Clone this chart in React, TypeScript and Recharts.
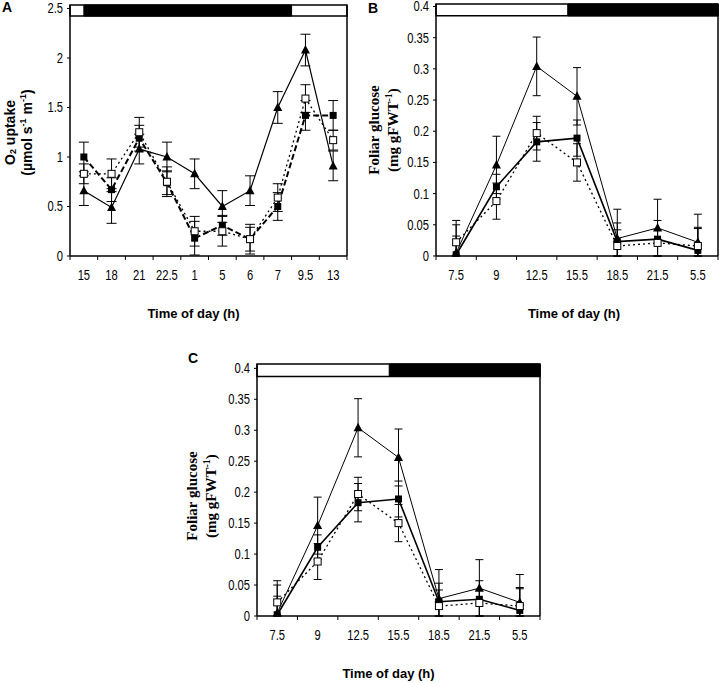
import React from 'react';
import { LineChart, Line, XAxis, YAxis, ErrorBar, ReferenceArea, ReferenceLine } from 'recharts';

// ---- Panel A: O2 uptake over the day ----
const timesA = ['15', '18', '21', '22.5', '1', '5', '6', '7', '9.5', '13'];
const triA = [0.66, 0.49, 1.08, 1.0, 0.83, 0.5, 0.66, 1.5, 2.08, 0.91];
const triErrA = [0.15, 0.16, 0.15, 0.15, 0.15, 0.16, 0.15, 0.16, 0.16, 0.15];
const fillA = [1.0, 0.67, 1.19, 0.74, 0.18, 0.31, 0.17, 0.5, 1.42, 1.42];
const fillErrA = [0.15, 0.12, 0.13, 0.12, 0.17, 0.1, 0.12, 0.14, 0.15, 0.15];
const openA = [0.83, 0.83, 1.25, 0.75, 0.25, 0.25, 0.17, 0.59, 1.59, 1.17];
const openErrA = [0.1, 0.15, 0.15, 0.15, 0.15, 0.15, 0.15, 0.14, 0.14, 0.1];
const yTicksA = [0, 0.5, 1, 1.5, 2, 2.5];
const nightA = [0.5, 8];

// ---- Panels B and C: foliar glucose (same data) ----
const timesB = ['7.5', '9', '12.5', '15.5', '18.5', '21.5', '5.5'];
const triB = [0.005, 0.146, 0.304, 0.256, 0.028, 0.045, 0.022];
const triErrB = [0.052, 0.046, 0.047, 0.046, 0.047, 0.046, 0.045];
const fillB = [0.002, 0.111, 0.183, 0.189, 0.023, 0.027, 0.009];
const fillErrB = [0.03, 0.02, 0.031, 0.029, 0.03, 0.03, 0.035];
const openB = [0.022, 0.088, 0.197, 0.15, 0.016, 0.021, 0.016];
const openErrB = [0.028, 0.029, 0.027, 0.03, 0.026, 0.021, 0.03];
const yTicksB = [0, 0.05, 0.1, 0.15, 0.2, 0.25, 0.3, 0.35, 0.4];
const nightB = [3.27, 7];

const ARIAL = '"Liberation Sans", Arial, sans-serif';
const TIMES = '"Liberation Serif", "Times New Roman", serif';
const SQUEEZE = 0.8; // tick labels in the figure use a condensed face

const buildRows = (tri: number[], triErr: number[], fill: number[], fillErr: number[], open: number[], openErr: number[]) =>
  tri.map((v, i) => ({
    x: i + 0.5,
    tri: v,
    triE: [Math.min(triErr[i], v), triErr[i]],
    fill: fill[i],
    fillE: [Math.min(fillErr[i], fill[i]), fillErr[i]],
    open: open[i],
    openE: [Math.min(openErr[i], open[i]), openErr[i]],
  }));

const TriDot = (props: any) => {
  const { cx, cy } = props;
  if (cx == null || cy == null) return null;
  return <polygon points={`${cx},${cy - 5} ${cx - 4.5},${cy + 3.5} ${cx + 4.5},${cy + 3.5}`} fill="#000" />;
};

const FillDot = (props: any) => {
  const { cx, cy } = props;
  if (cx == null || cy == null) return null;
  return <rect x={cx - 3.5} y={cy - 3.5} width={7} height={7} fill="#000" />;
};

const OpenDot = (props: any) => {
  const { cx, cy } = props;
  if (cx == null || cy == null) return null;
  return <rect x={cx - 3.5} y={cy - 3.5} width={7} height={7} fill="#fff" stroke="#000" strokeWidth={1} />;
};

const XTick = (props: any) => {
  const { x, y, payload, labels } = props;
  const v = payload.value;
  if (Number.isInteger(v)) {
    return <line x1={x} x2={x} y1={y} y2={y + 4} stroke="#000" strokeWidth={1} />;
  }
  return (
    <text
      transform={`translate(${x},${y + 24}) scale(${SQUEEZE},1)`}
      textAnchor="middle"
      fontSize={14}
      fontFamily={ARIAL}
      fill="#000"
    >
      {labels[Math.floor(v)]}
    </text>
  );
};

const YTick = (props: any) => {
  const { x, y, payload } = props;
  return (
    <text
      transform={`translate(${x},${y + 5}) scale(${SQUEEZE},1)`}
      textAnchor="end"
      fontSize={14}
      fontFamily={ARIAL}
      fill="#000"
    >
      {String(payload.value)}
    </text>
  );
};

type PanelProps = {
  left: number;
  top: number;
  width: number;
  height: number;
  margin: { top: number; right: number; bottom: number; left: number };
  yWidth: number;
  times: string[];
  rows: any[];
  yTicks: number[];
  yMax: number;
  barLow: number;
  night: number[];
  letter: string;
  letterX: number;
  letterY: number;
  yLabel: React.ReactNode[];
  yLabelFont: string;
  yLabelSize: number;
  yLabelX: number[];
  yLabelDy: number;
  titleDx: number;
  fillDash?: string;
  fillWidth: number;
  openDash: string;
  triWidth: number;
  capWidth: number;
};

const X_HEIGHT = 30;

const Panel = (p: PanelProps) => {
  const n = p.times.length;
  const halfTicks = Array.from({ length: 2 * n + 1 }, (_, k) => k / 2);
  const plotLeft = p.margin.left + p.yWidth;
  const plotRight = p.width - p.margin.right;
  const plotTop = p.margin.top;
  const plotBottom = p.height - p.margin.bottom - X_HEIGHT;
  const midY = (plotTop + plotBottom) / 2 + p.yLabelDy;
  return (
    <div style={{ position: 'absolute', left: p.left, top: p.top, width: p.width, height: p.height }}>
      <LineChart width={p.width} height={p.height} data={p.rows} margin={p.margin}>
        <XAxis
          type="number"
          dataKey="x"
          domain={[0, n]}
          ticks={halfTicks}
          interval={0}
          tickSize={0}
          tickMargin={0}
          tickLine={false}
          allowDataOverflow
          height={X_HEIGHT}
          axisLine={{ stroke: '#000', strokeWidth: 1.5 }}
          tick={<XTick labels={p.times} />}
        />
        <YAxis
          type="number"
          domain={[0, p.yMax]}
          ticks={p.yTicks}
          interval={0}
          allowDataOverflow
          width={p.yWidth}
          tickSize={3}
          tickMargin={4}
          axisLine={{ stroke: '#000', strokeWidth: 1.5 }}
          tickLine={{ stroke: '#000' }}
          tick={<YTick />}
        />
        <ReferenceArea x1={0} x2={n} y1={p.barLow} y2={p.yMax} fill="#fff" fillOpacity={1} stroke="#000" strokeWidth={1.5} />
        <ReferenceArea x1={p.night[0]} x2={p.night[1]} y1={p.barLow} y2={p.yMax} fill="#000" fillOpacity={1} stroke="#000" />
        <ReferenceLine x={n} stroke="#000" strokeWidth={1.5} />
        <Line
          dataKey="tri"
          type="linear"
          stroke="#000"
          strokeWidth={p.triWidth}
          dot={<TriDot />}
          activeDot={false}
          isAnimationActive={false}
        >
          <ErrorBar dataKey="triE" width={p.capWidth} stroke="#000" strokeWidth={1} direction="y" />
        </Line>
        <Line
          dataKey="fill"
          type="linear"
          stroke="#000"
          strokeWidth={p.fillWidth}
          strokeDasharray={p.fillDash}
          dot={<FillDot />}
          activeDot={false}
          isAnimationActive={false}
        >
          <ErrorBar dataKey="fillE" width={p.capWidth} stroke="#000" strokeWidth={1} direction="y" />
        </Line>
        <Line
          dataKey="open"
          type="linear"
          stroke="#000"
          strokeWidth={1.3}
          strokeDasharray={p.openDash}
          dot={<OpenDot />}
          activeDot={false}
          isAnimationActive={false}
        >
          <ErrorBar dataKey="openE" width={p.capWidth} stroke="#000" strokeWidth={1} direction="y" />
        </Line>
      </LineChart>
      <svg
        width={p.width}
        height={p.height}
        style={{ position: 'absolute', left: 0, top: 0, pointerEvents: 'none' }}
      >
        <text x={p.letterX} y={p.letterY} fontSize={14} fontWeight="bold" fontFamily={ARIAL} fill="#000">
          {p.letter}
        </text>
        {p.yLabel.map((line, i) => (
          <text
            key={i}
            x={plotLeft + p.yLabelX[i]}
            y={midY}
            transform={`rotate(-90, ${plotLeft + p.yLabelX[i]}, ${midY})`}
            textAnchor="middle"
            dominantBaseline="central"
            fontSize={p.yLabelSize}
            fontWeight="bold"
            fontFamily={p.yLabelFont}
            fill="#000"
          >
            {line}
          </text>
        ))}
        <text
          x={(plotLeft + plotRight) / 2 + p.titleDx}
          y={plotBottom + 57}
          textAnchor="middle"
          dominantBaseline="central"
          fontSize={13}
          fontWeight="bold"
          fontFamily={ARIAL}
          fill="#000"
        >
          Time of day (h)
        </text>
      </svg>
    </div>
  );
};

const rowsA = buildRows(triA, triErrA, fillA, fillErrA, openA, openErrA);
const rowsB = buildRows(triB, triErrB, fillB, fillErrB, openB, openErrB);

const labelA = [
  <>
    <tspan>O</tspan>
    <tspan fontSize={9} dy={3}>2</tspan>
    <tspan dy={-3}> uptake</tspan>
  </>,
  <>
    <tspan>(µmol s</tspan>
    <tspan fontSize={9} dy={-4}>-1</tspan>
    <tspan dy={4}> m</tspan>
    <tspan fontSize={9} dy={-4}>-1</tspan>
    <tspan dy={4}>)</tspan>
  </>,
];

const labelGlucose = [
  <>
    <tspan>Foliar glucose</tspan>
  </>,
  <>
    <tspan>(mg gFWT</tspan>
    <tspan fontSize={10} dy={-5}>-1</tspan>
    <tspan dy={5}>)</tspan>
  </>,
];

export default function App() {
  return (
    <div style={{ position: 'absolute', left: 0, top: 0, width: 720, height: 683, background: '#fff' }}>
      <Panel
        left={0}
        top={0}
        width={360}
        height={330}
        margin={{ top: 5, right: 13, bottom: 44, left: 0 }}
        yWidth={70}
        times={timesA}
        rows={rowsA}
        yTicks={yTicksA}
        yMax={2.535}
        barLow={2.424}
        night={nightA}
        letter="A"
        letterX={2}
        letterY={12}
        yLabel={labelA}
        yLabelFont={ARIAL}
        yLabelSize={14}
        yLabelX={[-60, -43]}
        yLabelDy={2}
        titleDx={-15}
        fillDash="6 3"
        fillWidth={2}
        openDash="2 3"
        triWidth={1.2}
        capWidth={5}
      />
      <Panel
        left={360}
        top={0}
        width={360}
        height={330}
        margin={{ top: 4, right: 2, bottom: 44, left: 0 }}
        yWidth={76}
        times={timesB}
        rows={rowsB}
        yTicks={yTicksB}
        yMax={0.404}
        barLow={0.385}
        night={nightB}
        letter="B"
        letterX={8}
        letterY={13}
        yLabel={labelGlucose}
        yLabelFont={TIMES}
        yLabelSize={15}
        yLabelX={[-62, -43]}
        yLabelDy={0}
        titleDx={-3}
        fillWidth={1.6}
        openDash="2 3"
        triWidth={1}
        capWidth={4}
      />
      <Panel
        left={180}
        top={340}
        width={380}
        height={343}
        margin={{ top: 24, right: 20, bottom: 37, left: 0 }}
        yWidth={77}
        times={timesB}
        rows={rowsB}
        yTicks={yTicksB}
        yMax={0.407}
        barLow={0.387}
        night={nightB}
        letter="C"
        letterX={8}
        letterY={23}
        yLabel={labelGlucose}
        yLabelFont={TIMES}
        yLabelSize={15}
        yLabelX={[-65, -46]}
        yLabelDy={6}
        titleDx={-10}
        fillWidth={1.6}
        openDash="2 3"
        triWidth={1}
        capWidth={4}
      />
    </div>
  );
}
